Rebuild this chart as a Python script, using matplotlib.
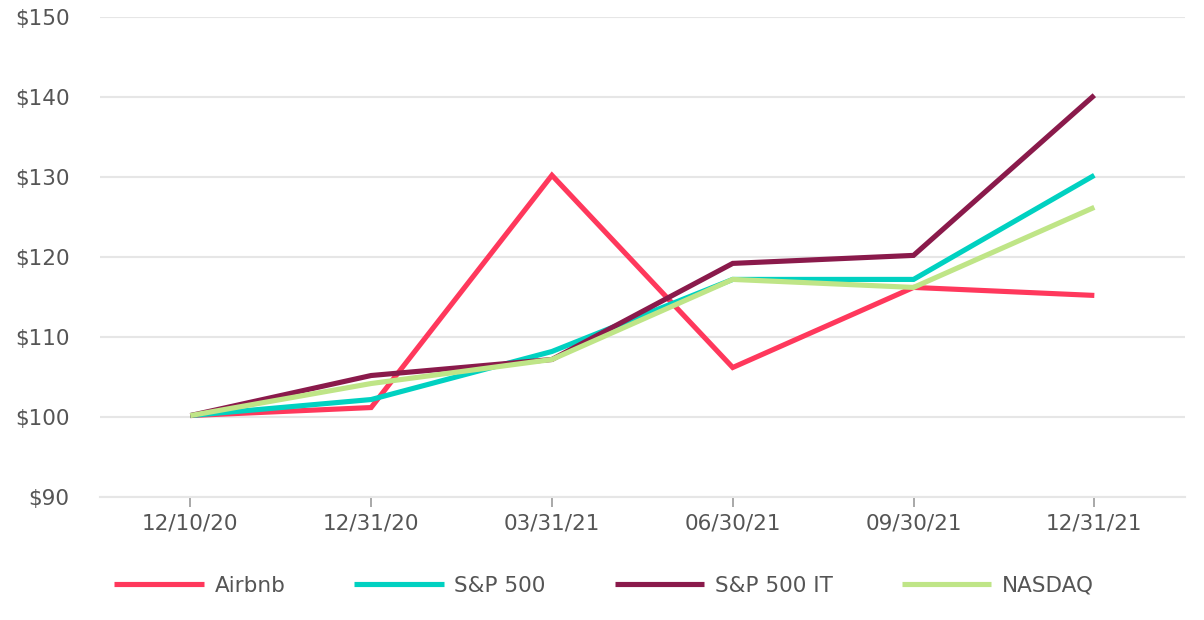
import matplotlib.pyplot as plt

# Datos
fechas = ['12/10/20', '12/31/20', '03/31/21', '06/30/21', '09/30/21', '12/31/21']
airbnb = [100, 101, 130, 106, 116, 115]
sp500 = [100, 102, 108, 117, 117, 130]
sp500_it = [100, 105, 107, 119, 120, 140]
nasdaq = [100, 104, 107, 117, 116, 126]

series = [('Airbnb', airbnb, '#FF385C'),
          ('S&P 500', sp500, '#00D1C1'),
          ('S&P 500 IT', sp500_it, '#8A1A4B'),
          ('NASDAQ', nasdaq, '#BFE587')]

gris = '#555555'
fig = plt.figure(figsize=(12.04, 6.2), dpi=100)
ax = fig.add_axes([0.083, 0.198, 0.901, 0.775])

x = list(range(len(fechas)))
for nombre, valores, color in series:
    ax.plot(x, [v + 0.2 for v in valores], color=color, lw=3.7, label=nombre,
            solid_joinstyle='miter', solid_capstyle='butt')

ax.set_xlim(-0.5, len(fechas) - 0.5)
ax.set_ylim(90, 150)
ax.set_yticks(range(90, 151, 10))
ax.set_yticklabels(['$%d' % v for v in range(90, 151, 10)])
ax.set_xticks(x)
ax.set_xticklabels(fechas)
ax.grid(axis='y', color='#E6E6E6', lw=1.5)
ax.set_axisbelow(True)
for lado in ['top', 'right', 'left']:
    ax.spines[lado].set_visible(False)
ax.spines['bottom'].set_color('#E6E6E6')
ax.spines['bottom'].set_linewidth(1.5)
ax.tick_params(axis='y', length=0, pad=22, labelsize=15.5, labelcolor=gris)
ax.tick_params(axis='x', length=7.5, width=1.2, color='#999999', pad=4,
               labelsize=15.5, labelcolor=gris)

fig.legend(loc='center left', bbox_to_anchor=(0.079, 0.055), ncol=4, frameon=False,
           fontsize=15.5, labelcolor=gris, handlelength=4.15, handletextpad=0.5,
           columnspacing=3.2)

plt.savefig('out.png', dpi=100)
